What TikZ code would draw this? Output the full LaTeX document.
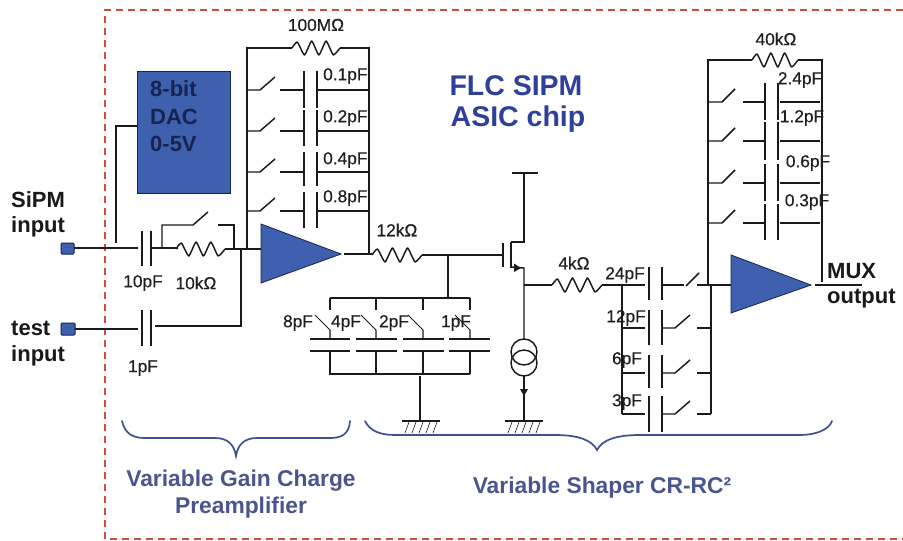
\documentclass[tikz,border=0pt]{standalone}
\usepackage{fontspec}
\setmainfont{Liberation Sans}
\definecolor{ampblue}{HTML}{3F60AE}
\definecolor{darkblue}{HTML}{16244F}
\definecolor{titleblue}{HTML}{2F3F9C}
\definecolor{capblue}{HTML}{4A5590}
\definecolor{bracecol}{HTML}{3F4F90}
\definecolor{framered}{HTML}{C8503A}
\definecolor{wirecol}{HTML}{1A1A1A}
\tikzset{
  wire/.style={draw=wirecol,line width=1.45pt,line join=miter},
  thin wire/.style={draw=wirecol,line width=1.05pt},
  frame line/.style={draw=framered,line width=1.5pt,dash pattern=on 7pt off 5pt},
  ampshape/.style={fill=ampblue,draw=darkblue,line width=0.8pt,line join=miter},
  port/.style={fill=ampblue,draw=darkblue,line width=1pt,rounded corners=1pt},
  val/.style={font=\fontsize{17.3}{19}\selectfont\addfontfeature{FakeBold=0.35},text=black!88,inner sep=0pt},
  inlab/.style={font=\fontsize{22}{27}\selectfont\bfseries,text=black!90,inner sep=0pt,align=left},
  seclab/.style={font=\fontsize{22.8}{27}\selectfont\bfseries,text=capblue,inner sep=0pt,align=center},
  titlelab/.style={font=\fontsize{28.5}{33}\selectfont\bfseries,text=titleblue,inner sep=0pt,align=center},
  daclab/.style={font=\fontsize{22}{27}\selectfont\bfseries,text=darkblue,inner sep=0pt,align=left},
  brace/.style={draw=bracecol,line width=1.7pt,line cap=round}
}
% resistor zigzag from x1 to x2 at height y
\newcommand{\zzres}[3]{%
  \draw[wire,line join=round] plot[smooth,tension=0.3] coordinates {
    (#1,#3)
    ({#1+0.11*(#2-#1)},{#3-6})
    ({#1+0.26*(#2-#1)},{#3+7})
    ({#1+0.41*(#2-#1)},{#3-7})
    ({#1+0.56*(#2-#1)},{#3+7})
    ({#1+0.71*(#2-#1)},{#3-7})
    ({#1+0.86*(#2-#1)},{#3+7})
    (#2,#3)};}
% ground symbol
\newcommand{\gndsym}[2]{%
  \draw[thin wire,line width=1.5pt] ({#1-19},#2) -- ({#1+19},#2);
  \foreach \k in {-16,-9,-2,5,12}
    \draw[thin wire,line width=0.6pt] ({#1+\k+4},{#2+1}) -- ({#1+\k},{#2+12});}
\begin{document}
\begin{tikzpicture}[x=1pt,y=-1pt]
\useasboundingbox (0,0) rectangle (903,541);
\fill[white] (0,0) rectangle (903,541);
% chip frame
\draw[frame line] (903,10) -- (105,10) -- (105,539) -- (903,539);

% DAC
\node[fill=ampblue,draw=darkblue,line width=0.8pt,minimum width=93pt,minimum height=122pt,inner sep=0pt] (dac) at (183.5,132) {};
\node[daclab,anchor=west] (dactxt) at (150,89) {8-bit};
\node[daclab,anchor=west] (dactxtb) at (150,117) {DAC};
\node[daclab,anchor=west] (dactxtc) at (150,144) {0-5V};
\draw[wire] (137,126) -- (116,126) -- (116,243);

% inputs
\draw[port] (61,243) rectangle (74,254);
\draw[port] (61,323) rectangle (75,335);
\node[inlab,anchor=west] (sipm) at (11,200) {SiPM};
\node[inlab,anchor=west] (sipmb) at (11,227) {input};
\node[inlab,anchor=west] (test) at (11,328) {test};
\node[inlab,anchor=west] (testb) at (11,356) {input};

% input network
\draw[wire] (74,248) -- (138,248);
\draw[wire] (142,231) -- (142,266);
\draw[wire] (151,231) -- (151,266);
\draw[wire] (150,248) -- (178,248);
\zzres{176}{225}{249}
\draw[wire] (225,249) -- (261,249);
\draw[wire] (162,248) -- (162,225) -- (193,225) -- (208,212);
\draw[wire] (218,225) -- (234,225) -- (234,249);
\draw[wire] (241,249) -- (241,326) -- (198,326) -- (155,326);
\draw[wire] (75,329) -- (138,329);
\draw[wire] (142,310) -- (142,346);
\draw[wire] (151,310) -- (151,346);

% preamp feedback
\draw[wire] (247,248) -- (247,48) -- (292,48);
\zzres{292}{340}{48}
\draw[wire] (340,48) -- (369,48) -- (369,255);
\foreach \yy in {90,131,172,211} {
  \draw[wire] (246,\yy) -- (260,\yy) -- (275,{\yy-13});
  \draw[wire] (280,\yy) -- (304,\yy);
  \draw[wire] (317,\yy) -- (369,\yy);
}
\foreach \ya/\yb in {71/108,110/146,152/186,192/228} {
  \draw[wire] (304,\ya) -- (304,\yb);
  \draw[wire] (317,\ya) -- (317,\yb);
}

% preamp
\draw[ampshape] (261,224) -- (341,254) -- (261,283) -- cycle;

% shaper input
\draw[wire] (344,254) -- (372,254);
\zzres{372}{422}{255}
\draw[wire] (422,255) -- (503,255);
\draw[wire] (448,255) -- (448,298);
\draw[wire,line width=1.7pt] (329.5,298) -- (470,298);
\foreach \xx in {330,376,423,470} {
  \draw[wire] (\xx,298) -- (\xx,310);
  \draw[thin wire] ({\xx-15},315) -- (\xx,330) -- (\xx,339);
  \draw[wire] (\xx,351) -- (\xx,374);
}
\foreach \xa/\xb in {310/350,356/397,403/444,449/490} {
  \draw[thin wire] (\xa,339) -- (\xb,339);
  \draw[thin wire] (\xa,351) -- (\xb,351);
}
\draw[thin wire] (329,374) -- (470,374);
\draw[thin wire] (420,376) -- (420,421);
\gndsym{421}{421}

% transistor
\draw[wire] (503,243) -- (503,267);
\draw[wire] (511,242) -- (511,268);
\draw[wire] (512,173) -- (538,173);
\draw[wire] (524,173) -- (524,242) -- (511,242);
\draw[wire] (511,267) -- (524,268) -- (524,339);
\fill[wirecol] (521,268) -- (514,263.5) -- (514,272) -- cycle;
\draw[thin wire,line width=1.3pt] (524,285) -- (552,285);
\zzres{552}{602}{285}
\draw[wire] (602,285) -- (645,285);
\draw[wire] (524,352) circle (13);
\draw[wire] (524,363) circle (13);
\draw[thin wire] (524,376) -- (524,420);
\fill[wirecol] (520,389) -- (528,389) -- (524,396) -- cycle;
\gndsym{524}{421}

% shaper caps
\draw[wire] (622,285) -- (622,414);
\foreach \yy in {328,373,414} {
  \draw[wire] (622,\yy) -- (645,\yy);
  \draw[wire] (662,\yy) -- (675,\yy) -- (690,{\yy-13});
  \draw[wire] (697,\yy) -- (711,\yy);
}
\draw[wire] (662,285) -- (684,285);
\draw[wire] (686,286) -- (699,273);
\draw[wire] (697,285) -- (731,285);
\draw[wire] (711,285) -- (711,414);
\foreach \ya/\yb in {267/300,310/345,355/388,396/432} {
  \draw[wire] (649,\ya) -- (649,\yb);
  \draw[wire] (662,\ya) -- (662,\yb);
}

% shaper feedback
\draw[wire] (708,285) -- (708,60) -- (752,60);
\zzres{752}{798}{60}
\draw[wire] (798,60) -- (822,60) -- (822,282);
\foreach \yy in {102,141,183,223} {
  \draw[wire] (707,\yy) -- (722,\yy) -- (735,{\yy-13});
  \draw[wire] (743,\yy) -- (765,\yy);
  \draw[wire] (780,\yy) -- (820,\yy);
}
\foreach \ya/\yb in {83/120,122/160,164/201,204/240} {
  \draw[wire] (765,\ya) -- (765,\yb);
  \draw[wire] (778,\ya) -- (778,\yb);
}
\draw[ampshape] (731,255) -- (811,285) -- (731,313) -- cycle;
\draw[thin wire] (815,285) -- (862,285);

% value labels
\node[val] (r100m) at (316,25) {100MΩ};
\node[val,anchor=west] (c01) at (323,76) {0.1pF};
\node[val,anchor=west] (c02) at (323,118) {0.2pF};
\node[val,anchor=west] (c04) at (323,160) {0.4pF};
\node[val,anchor=west] (c08) at (323,198) {0.8pF};
\node[val] (c10) at (143,283) {10pF};
\node[val] (r10k) at (196,283) {10kΩ};
\node[val] (c1in) at (143,368) {1pF};
\node[val] (r12k) at (397,230) {12kΩ};
\node[val] (c8) at (298,323) {8pF};
\node[val] (c4) at (346,323) {4pF};
\node[val] (c2) at (394,323) {2pF};
\node[val] (c1) at (456,323) {1pF};
\node[val] (r4k) at (574,263) {4kΩ};
\node[val] (c24) at (625,275) {24pF};
\node[val] (c12) at (626,318) {12pF};
\node[val] (c6) at (627,360) {6pF};
\node[val] (c3) at (627,402) {3pF};
\node[val] (r40k) at (776,39) {40kΩ};
\node[val] (c24f) at (800,80) {2.4pF};
\node[val] (c12f) at (802,118) {1.2pF};
\node[val] (c06f) at (808,163) {0.6pF};
\node[val] (c03f) at (807,202) {0.3pF};
\node[inlab,anchor=west] (mux) at (827,271) {MUX};
\node[inlab,anchor=west] (muxb) at (827,299) {output};

% titles
\node[titlelab] (chip) at (516,86) {FLC SIPM};
\node[titlelab] (chipb) at (518,119) {ASIC chip};

% braces
\draw[brace] (122,421) .. controls (125,434) and (133,438) .. (145,438)
  -- (215,438) .. controls (226,438) and (234,443) .. (236,456)
  .. controls (238,443) and (246,438) .. (257,438)
  -- (330,438) .. controls (342,438) and (349,434) .. (350,421);
\draw[brace] (365,421) .. controls (370,431) and (380,435) .. (395,435)
  -- (555,435) .. controls (578,435) and (592,440) .. (597,450)
  .. controls (602,440) and (616,435) .. (640,435)
  -- (800,435) .. controls (815,435) and (829,430) .. (832,421);
\node[seclab] (vg) at (241,481) {Variable Gain Charge};
\node[seclab] (vgb) at (241,508) {Preamplifier};
\node[seclab] (vs) at (602,488) {Variable Shaper CR-RC²};
\end{tikzpicture}
\end{document}
